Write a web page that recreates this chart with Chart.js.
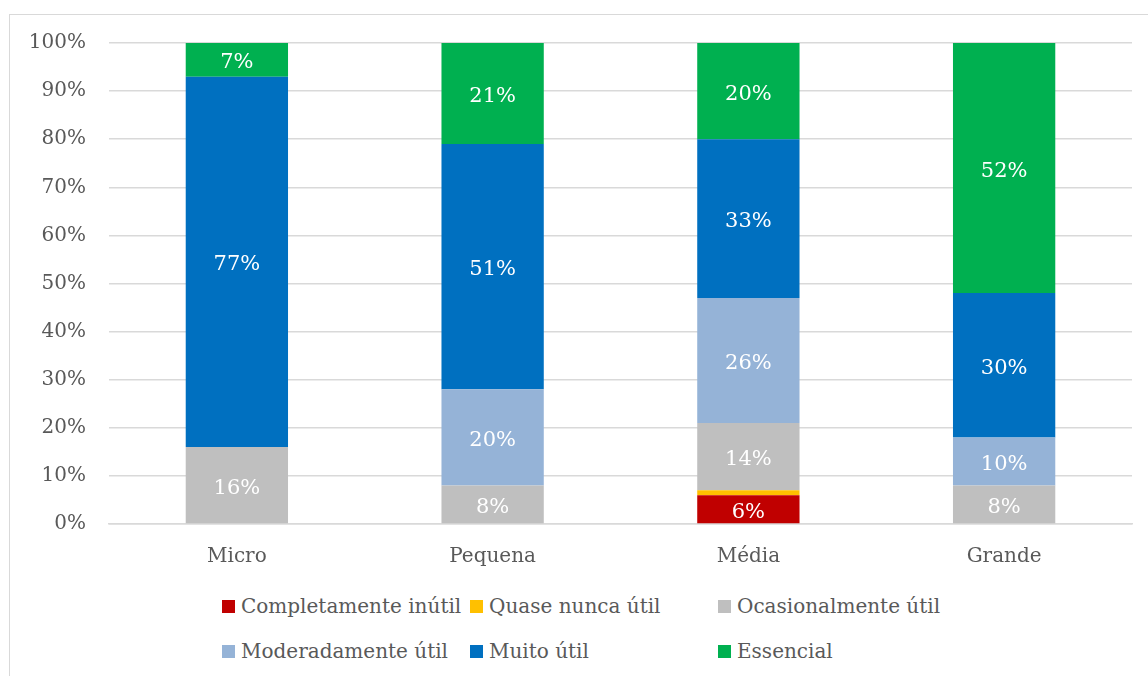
<!DOCTYPE html>
<html>
<head>
<meta charset="utf-8">
<script src="https://cdn.jsdelivr.net/npm/chart.js@4/dist/chart.umd.min.js"></script>
<style>
  body { margin: 0; background: #fff; width: 1148px; height: 676px; overflow: hidden; position: relative; font-family: "DejaVu Serif", serif; }
  #frame { position: absolute; left: 9px; top: 14px; width: 1160px; height: 680px; border: 1.5px solid #d9d9d9; box-sizing: border-box; }
  #wrap { position: absolute; left: 0; top: 0; width: 1148px; height: 580px; }
  #legend { position: absolute; left: 222px; top: 592px; display: grid; grid-template-columns: 248px 248px 248px; row-gap: 17px; color: #595959; font-size: 20px; }
  .item { display: flex; align-items: center; height: 28px; white-space: nowrap; }
  .box { width: 13px; height: 13px; margin-right: 6px; }
</style>
</head>
<body>
<div id="frame"></div>
<div id="wrap"><canvas id="chart"></canvas></div>
<div id="legend"></div>
<script>
const categories = ["Micro", "Pequena", "Média", "Grande"];
const seriesNames = ["Completamente inútil", "Quase nunca útil", "Ocasionalmente útil", "Moderadamente útil", "Muito útil", "Essencial"];
const seriesColors = ["#c00000", "#ffc000", "#bfbfbf", "#95b3d7", "#0070c0", "#00b050"];
const completamenteInutil = [0, 0, 6, 0];
const quaseNuncaUtil = [0, 0, 1, 0];
const ocasionalmenteUtil = [16, 8, 14, 8];
const moderadamenteUtil = [0, 20, 26, 10];
const muitoUtil = [77, 51, 33, 30];
const essencial = [7, 21, 20, 52];
const yTicks = [0, 10, 20, 30, 40, 50, 60, 70, 80, 90, 100];

const seriesValues = [completamenteInutil, quaseNuncaUtil, ocasionalmenteUtil, moderadamenteUtil, muitoUtil, essencial];

const barLabels = {
  id: "barLabels",
  afterDatasetsDraw(chart) {
    const ctx = chart.ctx;
    ctx.save();
    ctx.font = "21px 'DejaVu Serif'";
    ctx.fillStyle = "#ffffff";
    ctx.textAlign = "center";
    ctx.textBaseline = "middle";
    chart.data.datasets.forEach((ds, i) => {
      chart.getDatasetMeta(i).data.forEach((bar, j) => {
        const v = ds.data[j];
        if (v < 3) return;
        const mid = (bar.y + bar.base) / 2;
        ctx.fillText(v + "%", bar.x, mid + 3);
      });
    });
    ctx.restore();
  }
};

const datasets = seriesNames.map((name, i) => ({
  label: name,
  data: seriesValues[i],
  backgroundColor: seriesColors[i],
  borderWidth: 0,
  categoryPercentage: 1,
  barPercentage: 0.4,
}));

new Chart(document.getElementById("chart"), {
  type: "bar",
  data: { labels: categories, datasets: datasets },
  plugins: [barLabels],
  options: {
    animation: false,
    responsive: true,
    maintainAspectRatio: false,
    layout: { padding: { top: 43, right: 16, bottom: 0, left: 0 } },
    plugins: { legend: { display: false }, tooltip: { enabled: false } },
    scales: {
      x: {
        stacked: true,
        grid: { display: false, drawTicks: false },
        border: { color: "#d9d9d9", width: 1.5 },
        ticks: { color: "#595959", font: { family: "DejaVu Serif", size: 20 }, padding: 21 },
        afterFit: s => { s.height = 56; },
      },
      y: {
        stacked: true,
        min: 0,
        max: 100,
        afterBuildTicks: s => { s.ticks = yTicks.map(v => ({ value: v })); },
        grid: { color: "#d9d9d9", lineWidth: 1.5, drawTicks: false },
        border: { display: false },
        ticks: { color: "#595959", font: { family: "DejaVu Serif", size: 20 }, padding: 23, callback: v => v + "%" },
        afterFit: s => { s.width = 109; },
      },
    },
  },
});

const $legend = document.getElementById("legend");
seriesNames.forEach((name, i) => {
  const $item = document.createElement("div");
  $item.className = "item";
  $item.innerHTML = '<span class="box" style="background:' + seriesColors[i] + '"></span><span>' + name + '</span>';
  $legend.appendChild($item);
});
</script>
</body>
</html>
